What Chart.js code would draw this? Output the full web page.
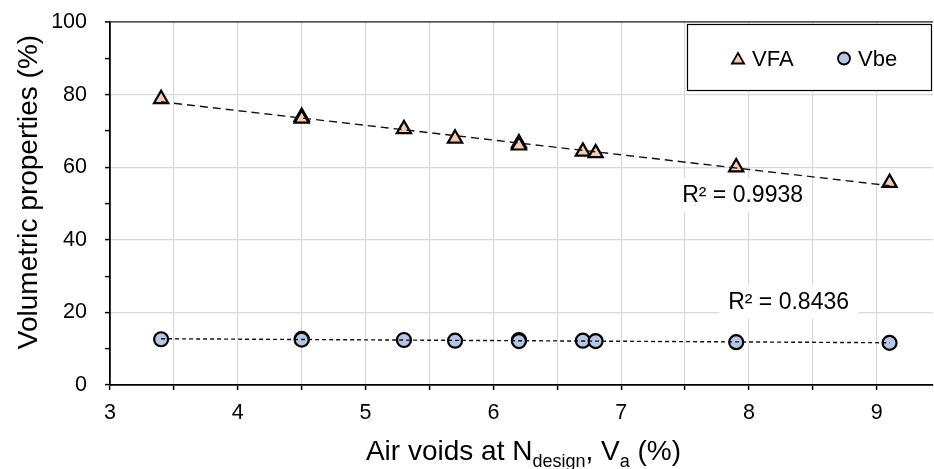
<!DOCTYPE html>
<html><head><meta charset="utf-8">
<script src="https://cdn.jsdelivr.net/npm/chart.js@4/dist/chart.umd.min.js"></script>
<style>html,body{margin:0;padding:0;background:#fff}#wrap{width:934px;height:469px}</style>
</head><body><div id="wrap"><canvas id="c" width="934" height="469"></canvas></div>
<script>
// ---- data ----
const airVoids = [3.4, 4.5, 4.5, 5.3, 5.7, 6.2, 6.2, 6.7, 6.8, 7.9, 9.1];
const vfa      = [78.8, 73.9, 73.4, 70.5, 67.9, 66.6, 66.0, 64.3, 63.9, 60.0, 55.7];
const vbe      = [12.6, 12.7, 12.5, 12.4, 12.2, 12.4, 12.1, 12.2, 12.1, 11.8, 11.6];
const seriesNames = ['VFA', 'Vbe'];
const r2Texts = ['R² = 0.9938', 'R² = 0.8436'];
const xTickLabels = [3, 4, 5, 6, 7, 8, 9];
const yTickLabels = [0, 20, 40, 60, 80, 100];

const FONT = "'Liberation Sans', Arial, sans-serif";

function pts(xs, ys) { return xs.map((x, i) => ({x, y: ys[i]})); }
function linFit(xs, ys) {
  const n = xs.length;
  const mx = xs.reduce((a, b) => a + b, 0) / n, my = ys.reduce((a, b) => a + b, 0) / n;
  let sxy = 0, sxx = 0;
  xs.forEach((x, i) => { sxy += (x - mx) * (ys[i] - my); sxx += (x - mx) * (x - mx); });
  const b = sxy / sxx, a = my - b * mx;
  const x0 = Math.min(...xs), x1 = Math.max(...xs);
  return [{x: x0, y: a + b * x0}, {x: x1, y: a + b * x1}];
}
const rnd = v => Math.round(v * 1000) / 1000;

const overlay = {
  id: 'overlay',
  afterDraw(chart, args, opts) {
    const ctx = chart.ctx, xs = chart.scales.x, ys = chart.scales.y, ca = chart.chartArea;
    ctx.save();
    // R² labels with white background
    ctx.font = `23px ${FONT}`;
    ctx.textAlign = 'center'; ctx.textBaseline = 'middle';
    r2Texts.forEach((t, i) => {
      const p = opts.r2Pos[i];
      const cx = xs.getPixelForValue(p.x), cy = ys.getPixelForValue(p.y);
      const w = ctx.measureText(t).width;
      ctx.fillStyle = '#fff';
      ctx.fillRect(cx - w / 2 - 9, cy - 17, w + 18, 34);
      ctx.fillStyle = '#000';
      ctx.fillText(t, cx, cy + 1);
    });
    // legend box
    const L = opts.legend;
    ctx.fillStyle = '#fff';
    ctx.fillRect(L.x, L.y, L.w, L.h);
    ctx.strokeStyle = '#000'; ctx.lineWidth = 1.2;
    ctx.strokeRect(L.x + 0.5, L.y + 0.5, L.w - 1, L.h - 1);
    const ds = [chart.data.datasets[2], chart.data.datasets[3]];
    ds.forEach((d, i) => {
      const mx = L.x + L.items[i], my = L.y + L.h / 2 + 1;
      ctx.fillStyle = d.backgroundColor; ctx.strokeStyle = d.borderColor;
      ctx.lineWidth = 1.8;
      Chart.helpers.drawPoint(ctx, {pointStyle: d.pointStyle, radius: d.pointStyle === 'triangle' ? 7 : 6, rotation: 0, borderWidth: 1.8}, mx, my + (d.pointStyle === 'triangle' ? 1.5 : 0));
      ctx.fillStyle = '#000';
      ctx.font = `22px ${FONT}`;
      ctx.textAlign = 'left'; ctx.textBaseline = 'alphabetic';
      ctx.fillText(seriesNames[i], mx + 14, L.y + 41.5);
    });
    // y title
    ctx.save();
    ctx.translate(37, 192);
    ctx.rotate(-Math.PI / 2);
    ctx.font = `28px ${FONT}`;
    ctx.textAlign = 'center'; ctx.textBaseline = 'alphabetic';
    ctx.fillStyle = '#000';
    ctx.fillText('Volumetric properties (%)', 0, 0);
    ctx.restore();
    // x title with subscripts
    const parts = [['Air voids at N', 0], ['design', 1], [', V', 0], ['a', 1], [' (%)', 0]];
    const fMain = `28px ${FONT}`, fSub = `18px ${FONT}`;
    let total = 0;
    parts.forEach(p => { ctx.font = p[1] ? fSub : fMain; total += ctx.measureText(p[0]).width; });
    let x = (ca.left + ca.right) / 2 + 2 - total / 2;
    const base = 460;
    ctx.textAlign = 'left'; ctx.textBaseline = 'alphabetic'; ctx.fillStyle = '#000';
    parts.forEach(p => {
      ctx.font = p[1] ? fSub : fMain;
      ctx.fillText(p[0], x, p[1] ? base + 6.5 : base);
      x += ctx.measureText(p[0]).width;
    });
    ctx.restore();
  }
};

new Chart(document.getElementById('c'), {
  type: 'scatter',
  data: {
    datasets: [
      {label: 'VFA trend', data: linFit(airVoids, vfa), showLine: true, borderColor: '#111', borderWidth: 1.4,
       borderDash: [8, 5], pointRadius: 0, fill: false},
      {label: 'Vbe trend', data: linFit(airVoids, vbe), showLine: true, borderColor: '#111', borderWidth: 1.4,
       borderDash: [4, 3], pointRadius: 0, fill: false},
      {label: seriesNames[0], data: pts(airVoids, vfa), pointStyle: 'triangle', pointRadius: 8.2,
       backgroundColor: '#F8CBAD', borderColor: '#000', pointBorderWidth: 2.2},
      {label: seriesNames[1], data: pts(airVoids, vbe), pointStyle: 'circle', pointRadius: 7,
       backgroundColor: '#B4C7E7', borderColor: '#000', pointBorderWidth: 2.2}
    ]
  },
  options: {
    responsive: false, animation: false, devicePixelRatio: 1,
    layout: {autoPadding: false, padding: {top: 22, right: 1, left: 0, bottom: 0}},
    plugins: {
      legend: {display: false}, tooltip: {enabled: false},
      overlay: {
        r2Pos: [{x: 7.95, y: 52.3}, {x: 8.31, y: 22.9}],
        legend: {x: 687, y: 24, w: 245, h: 67, items: [51, 157]}
      }
    },
    scales: {
      x: {
        type: 'linear', min: 3, max: 9.44,
        afterFit: s => { s.height = 84; s.paddingLeft = 0; s.paddingRight = 0; },
        afterBuildTicks: s => {
          const t = [];
          for (let k = 0; 3 + k * 0.5 <= s.max + 1e-9; k++) t.push({value: 3 + k * 0.5});
          s.ticks = t;
        },
        ticks: {stepSize: 0.5, autoSkip: false, maxRotation: 0, padding: 10, color: '#000',
                font: {family: FONT, size: 21.5},
                callback: v => xTickLabels.includes(rnd(v)) ? String(rnd(v)) : ''},
        grid: {color: c => c.tick && rnd(c.tick.value) === 3 ? 'rgba(0,0,0,0)' : '#d9d9d9', lineWidth: 1.2,
               tickColor: '#000', tickLength: 5, tickWidth: 1.5},
        border: {color: '#000', width: 1.8}
      },
      y: {
        min: 0, max: 100,
        afterFit: s => { s.width = 110; s.paddingTop = 0; s.paddingBottom = 0; },
        ticks: {stepSize: 10, color: '#000', padding: 18, font: {family: FONT, size: 21.5},
                callback: v => yTickLabels.includes(rnd(v)) ? String(rnd(v)) : ''},
        grid: {color: c => { const v = c.tick ? rnd(c.tick.value) : -1;
                 if (v === 100) return '#595959';
                 if (v > 0 && v < 100 && v % 20 === 0) return '#d9d9d9';
                 return 'rgba(0,0,0,0)'; },
               lineWidth: c => (c.tick && rnd(c.tick.value) === 100) ? 1.8 : 1.2,
               tickColor: '#000', tickLength: 5, tickWidth: 1.5},
        border: {color: '#000', width: 1.8}
      }
    }
  },
  plugins: [overlay]
});
</script></body></html>
